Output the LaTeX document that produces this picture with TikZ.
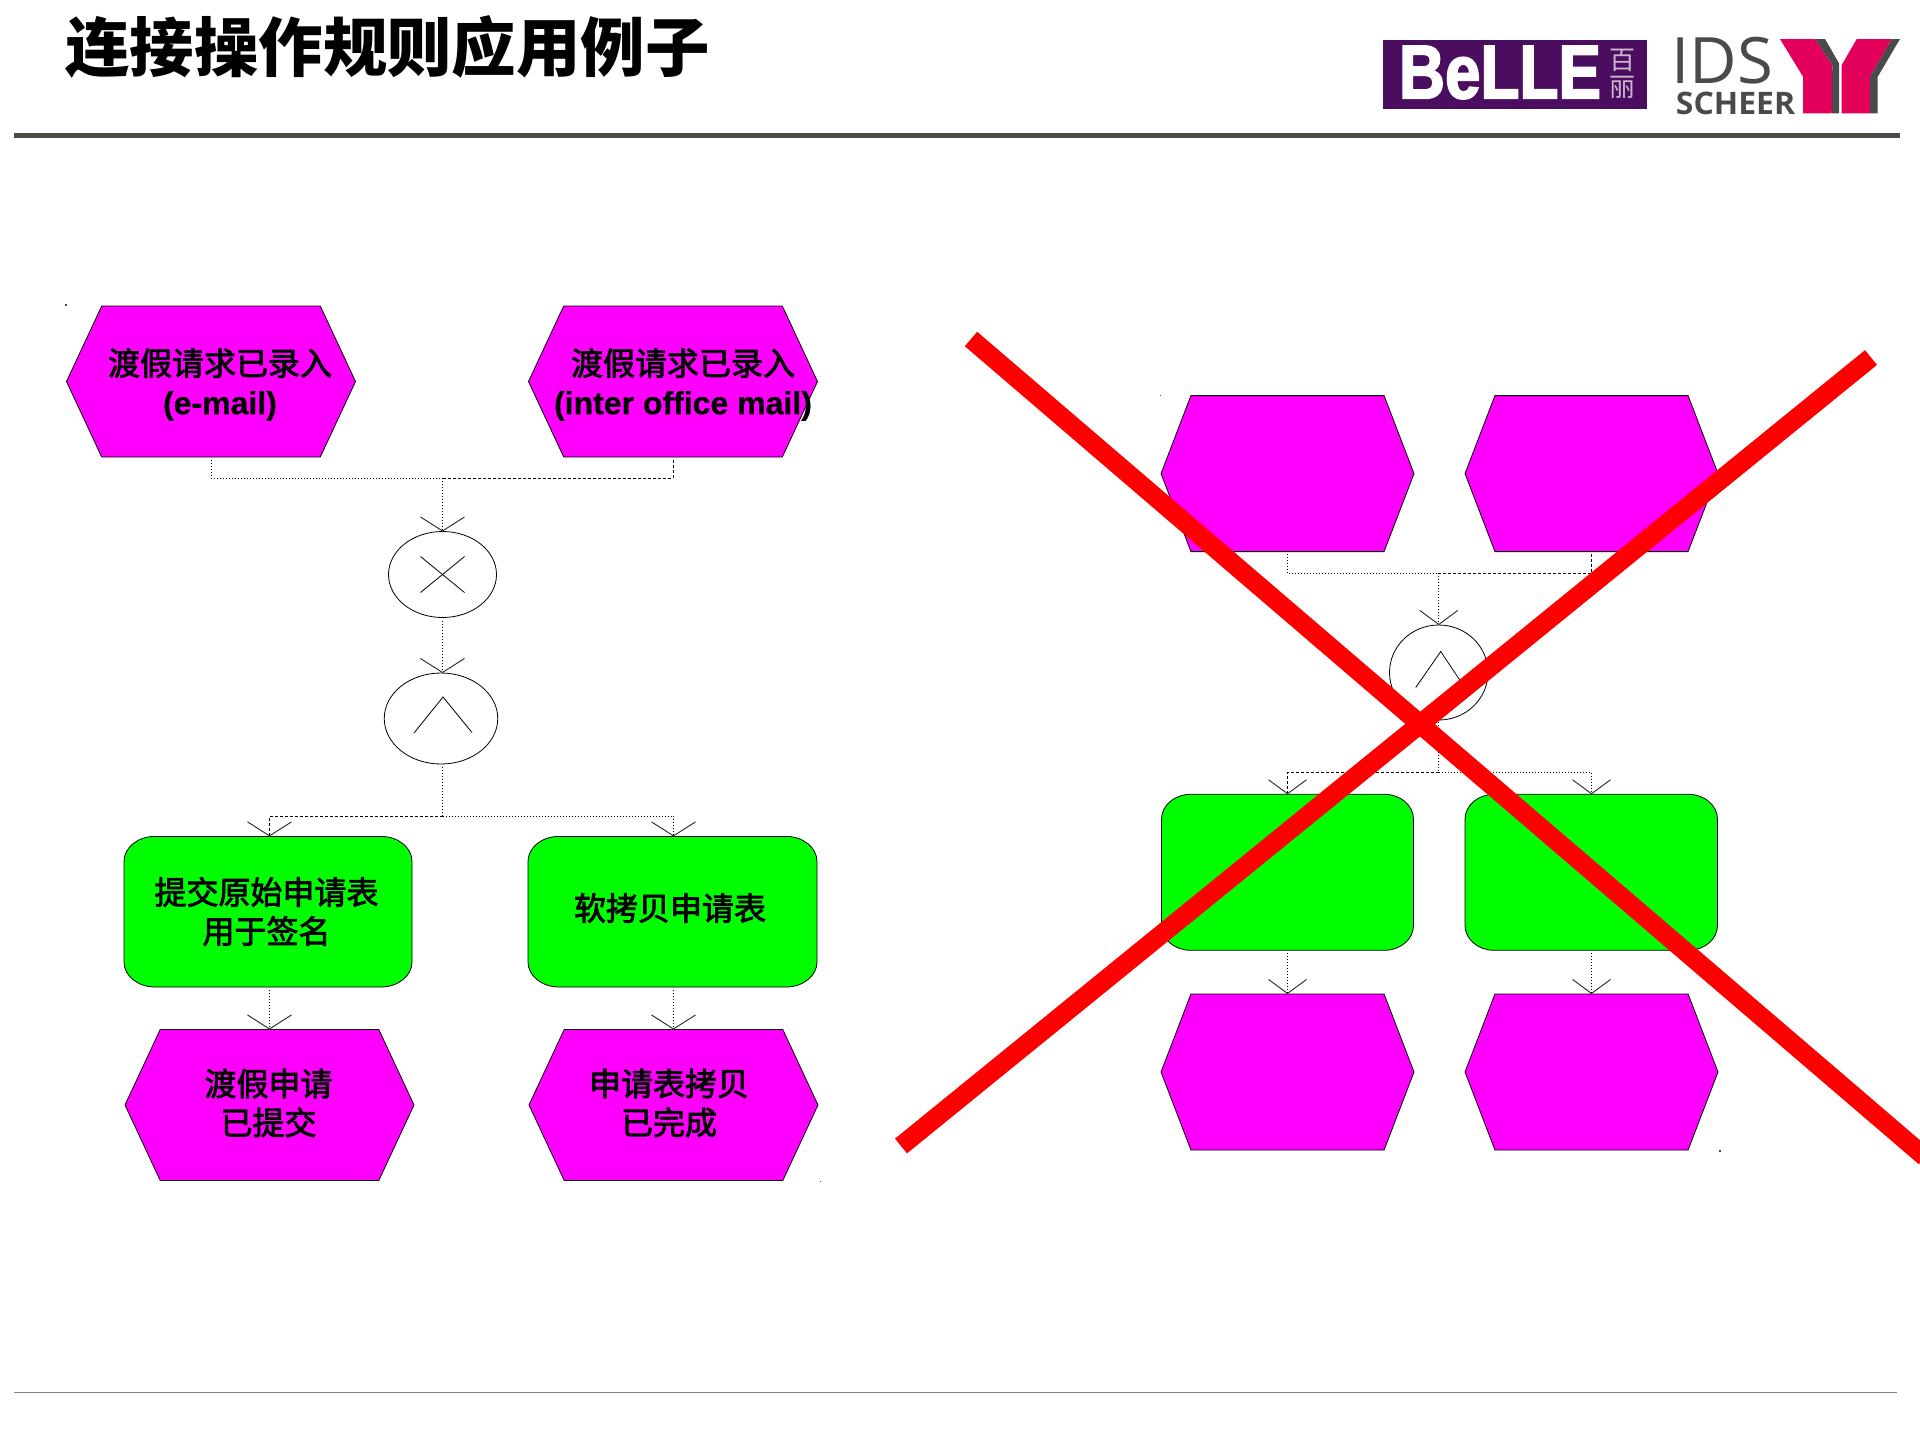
\documentclass[tikz,border=0pt]{standalone}
\usepackage{graphicx}
\usepackage{fontspec}
\setmainfont{Liberation Sans}[BoldFeatures={FakeBold=0.6}]
\newfontfamily\cjk{Noto Sans CJK SC}
\newfontfamily\cjkfake{Noto Sans CJK SC}[FakeBold=2.6]
\newcommand{\cjklab}{\mdseries\cjkfake}
\newfontfamily\opens{Open Sans}
\newfontfamily\heavy{Liberation Sans Bold}[FakeBold=2.5]
\usetikzlibrary{arrows.meta,shapes.geometric,shapes.symbols}
\definecolor{evt}{HTML}{FF00FF}
\definecolor{fnc}{HTML}{00FF00}
\definecolor{redx}{HTML}{FF0000}
\definecolor{rulec}{HTML}{4D4B47}
\definecolor{logogrey}{HTML}{4A4A4A}
\definecolor{logopink}{HTML}{E2005A}
\definecolor{bellep}{HTML}{4A0D60}
\tikzset{
  evtA/.style={signal,signal to=west and east,signal pointer angle=130,draw=black,line width=.8pt,fill=evt,minimum width=289pt,minimum height=151pt,inner sep=0pt,outer sep=0pt},
  evtB/.style={signal,signal to=west and east,signal pointer angle=138,draw=black,line width=.8pt,fill=evt,minimum width=253pt,minimum height=156pt,inner sep=0pt,outer sep=0pt},
  fncbox/.style={rectangle,draw=none,fill=none,inner sep=0pt,outer sep=0pt},
  fncline/.style={draw=black,line width=.8pt,fill=fnc},
  gate/.style={ellipse,draw=black,line width=.8pt,fill=white,inner sep=0pt,outer sep=0pt},
  gatemark/.style={draw=black,line width=.8pt},
  txt/.style={align=center,inner sep=0pt,font=\fontsize{32}{39}\selectfont\bfseries},
  dots/.style={draw=black,line width=.8pt,dash pattern=on 1pt off 2pt},
  dashes/.style={draw=black,line width=.8pt,dash pattern=on 3pt off 2pt},
  tipA/.style={-{Straight Barb[length=14pt,width=44pt,line width=.9pt,black!85]}},
  tipB/.style={-{Straight Barb[length=14pt,width=38pt,line width=.9pt,black!85]}},
  cross/.style={draw=redx,line width=19pt},
  speck/.style={fill=black!70},
}
\newcommand{\fncshape}[7]{% name, cx, cy, w, h, rx, ry
  \node[fncbox,minimum width=#4pt,minimum height=#5pt] (#1) at (#2,#3) {};
  \draw[fncline] ([xshift=#6pt]#1.north west) -- ([xshift=-#6pt]#1.north east)
    arc[start angle=90,end angle=0,x radius=#6pt,y radius=#7pt]
    -- ([yshift=#7pt]#1.south east)
    arc[start angle=0,end angle=-90,x radius=#6pt,y radius=#7pt]
    -- ([xshift=#6pt]#1.south west)
    arc[start angle=270,end angle=180,x radius=#6pt,y radius=#7pt]
    -- ([yshift=-#7pt]#1.north west)
    arc[start angle=180,end angle=90,x radius=#6pt,y radius=#7pt] -- cycle;
}
\begin{document}
\begin{tikzpicture}[x=1pt,y=-1pt]
\useasboundingbox (0,0) rectangle (1920,1440);
\fill[white] (0,0) rectangle (1920,1440);

% title
\node[inner sep=0pt,font=\fontsize{64.4}{70}\selectfont\bfseries\cjk] (title) at (387.5,46.5) {连接操作规则应用例子};

% rules
\fill[rulec] (14,133) rectangle (1900,138);
\fill[black!50] (14,1391.5) rectangle (1897,1392.8);

% Belle logo
\fill[bellep] (1383,40) rectangle (1647,109);
\node[inner sep=0pt,text=white,font=\fontsize{76}{76}\selectfont\heavy] (bellename) at (1500,72.5) {\scalebox{.84}[1]{BeLLE}};
\node[inner sep=0pt,text=white!70!bellep,font=\fontsize{26}{26}\selectfont\cjk] (bellebai) at (1622,60) {百};
\node[inner sep=0pt,text=white!70!bellep,font=\fontsize{26}{26}\selectfont\cjk] (belleli) at (1622,87) {丽};

% IDS Scheer logo
\node[inner sep=0pt,anchor=center,text=logogrey,font=\fontsize{64}{64}\selectfont\opens] (ids) at (1722,61) {\scalebox{1.02}[1]{IDS}};
\node[inner sep=0pt,anchor=center,text=logogrey,font=\fontsize{31}{31}\selectfont\bfseries\opens] (scheer) at (1735.5,103.5) {\scalebox{1.03}[1]{SCHEER}};
\fill[logopink] (1780,39) -- (1815,39) -- (1832.3,65) -- (1831.7,113.3) -- (1803,113.3) -- (1803,76.7) -- cycle;
\fill[logogrey] (1815,39) -- (1825,39) -- (1839,63.3) -- (1839,113.3) -- (1831.7,113.3) -- (1832.3,65) -- cycle;
\fill[logopink] (1856.7,39) -- (1891.7,39) -- (1870,76.7) -- (1870,113.3) -- (1841.7,113.3) -- (1841.7,65) -- cycle;
\fill[logogrey] (1891.7,39) -- (1900,39) -- (1877.7,76.7) -- (1877.7,113.3) -- (1870,113.3) -- (1870,76.7) -- cycle;

% specks
\fill[speck] (65,304) rectangle ++(1.5,1.5);
\fill[speck] (1160,395) rectangle ++(1.2,1.2);
\fill[speck] (820,1181) rectangle ++(1.2,1.2);
\fill[speck] (1719,1150) rectangle ++(1.5,1.5);

% LEFT flow
\node[evtA] (h1) at (211,381.5) {};
\node[evtA] (h2) at (673,381.5) {};
\node[gate,minimum width=108pt,minimum height=86pt] (xor) at (442.5,574.5) {};
\draw[gatemark] ([shift={(-22pt,18pt)}]xor.center) -- ([shift={(22pt,-18pt)}]xor.center);
\draw[gatemark] ([shift={(-22pt,-18pt)}]xor.center) -- ([shift={(22pt,18pt)}]xor.center);
\node[gate,minimum width=113.5pt,minimum height=91pt] (and1) at (441,718.5) {};
\draw[gatemark] ([shift={(-27pt,-14.5pt)}]and1.center) -- ([shift={(2pt,21.5pt)}]and1.center) -- ([shift={(31pt,-14pt)}]and1.center);
\fncshape{g1}{268}{911.7}{288}{150.6}{31}{25}
\fncshape{g2}{672.5}{911.7}{289}{150.6}{31}{25}
\node[evtA] (h3) at (269.5,1105) {};
\node[evtA] (h4) at (673.5,1105) {};

\coordinate (j1) at (442.5,478);
\coordinate (j2) at (442.5,816.4);
\draw[dots,shorten <=3pt] (h1.south) |- (j1);
\draw[dashes,shorten <=3pt] (h2.south) |- (j1);
\draw[dots,tipA] (j1) -- (xor.north);
\draw[dots,shorten <=3pt,tipA] (xor.south) -- (xor.south |- and1.north);
\draw[dots,shorten <=3pt] (and1.south -| j2) -- (j2);
\draw[dashes,tipA] (j2) -| (g1.north -| h3.north);
\draw[dots,tipA] (j2) -| (g2.north -| h4.north);
\draw[dots,shorten <=3pt,tipA] (g1.south -| h3.north) -- (h3.north);
\draw[dots,shorten <=3pt,tipA] (g2.south -| h4.north) -- (h4.north);

\node[txt] (t1) at (220,384.5) {{\cjklab 渡假请求已录入}\\(e-mail)};
\node[txt] (t2) at (683,384.5) {{\cjklab 渡假请求已录入}\\(inter office mail)};
\node[txt] (t3) at (266.5,911.5) {{\cjklab 提交原始申请表}\\{\cjklab 用于签名}};
\node[txt] (t4) at (670,908) {\cjklab 软拷贝申请表};
\node[txt] (t5) at (268.5,1103) {{\cjklab 渡假申请}\\{\cjklab 已提交}};
\node[txt] (t6) at (669,1103) {{\cjklab 申请表拷贝}\\{\cjklab 已完成}};

% RIGHT flow
\node[evtB] (r1) at (1287.5,473.6) {};
\node[evtB] (r2) at (1591.5,473.6) {};
\node[gate,minimum width=98.5pt,minimum height=95pt] (and2) at (1438.75,672.5) {};
\draw[gatemark] ([shift={(-23pt,-15pt)}]and2.center) -- ([shift={(2pt,21pt)}]and2.center) -- ([shift={(26pt,-15pt)}]and2.center);
\fncshape{r3}{1287.5}{872.3}{252}{156}{29}{25}
\fncshape{r4}{1591.25}{872.3}{252.5}{156}{29}{25}
\node[evtB] (r5) at (1287.5,1072) {};
\node[evtB] (r6) at (1591.5,1072) {};

\coordinate (j3) at (1438.75,573);
\coordinate (j4) at (1438.75,772.3);
\draw[dots,shorten <=2pt] (r1.south) |- (j3);
\draw[dashes,shorten <=2pt] (r2.south) |- (j3);
\draw[dots,tipB] (j3) -- (and2.north);
\draw[dots,shorten <=2pt] (and2.south) -- (j4);
\draw[dashes,tipB] (j4) -| (r3.north);
\draw[dots,tipB] (j4) -| (r4.north -| r6.north);
\draw[dots,shorten <=3pt,tipB] (r3.south) -- (r5.north);
\draw[dots,shorten <=3pt,tipB] (r4.south -| r6.north) -- (r6.north);

% red cross
\coordinate (c1) at (971,339);
\coordinate (c2) at (1925,1157);
\coordinate (c3) at (1871,357.5);
\coordinate (c4) at (901,1146);
\draw[cross] (c1) -- (c2);
\draw[cross] (c3) -- (c4);
\end{tikzpicture}
\end{document}
